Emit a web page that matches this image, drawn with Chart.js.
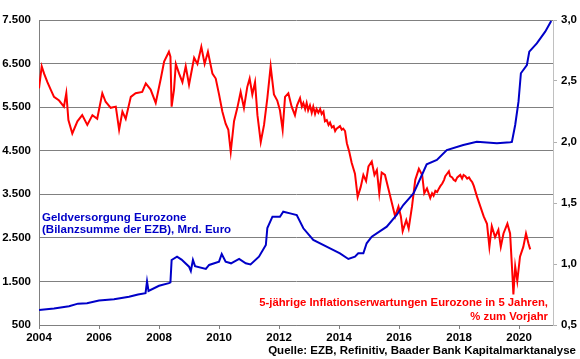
<!DOCTYPE html>
<html>
<head>
<meta charset="utf-8">
<script src="https://cdn.jsdelivr.net/npm/chart.js@4.4.1/dist/chart.umd.min.js"></script>
<style>
html,body{margin:0;padding:0;background:#fff;}
#wrap{width:580px;height:359px;}
</style>
</head>
<body>
<div id="wrap"><canvas id="c" width="580" height="359"></canvas></div>
<script>
// ---- Data ----
const blueYears = [2004.0,2004.5,2005.0,2005.3,2005.6,2006.0,2006.5,2007.0,2007.3,2007.55,2007.6,2007.65,2008.0,2008.33,2008.38,2008.42,2008.6,2008.75,2009.0,2009.06,2009.13,2009.2,2009.56,2009.67,2010.0,2010.09,2010.22,2010.4,2010.67,2010.89,2011.05,2011.33,2011.56,2011.61,2011.78,2012.03,2012.14,2012.37,2012.59,2012.81,2013.14,2013.7,2014.03,2014.31,2014.53,2014.64,2014.81,2014.92,2015.09,2015.59,2015.92,2016.14,2016.48,2016.81,2016.92,2017.26,2017.59,2018.14,2018.59,2019.26,2019.7,2019.76,2019.87,2019.98,2020.06,2020.26,2020.34,2020.59,2020.87,2021.07];
const blueValues = [844,880,930,990,1000,1060,1090,1150,1200,1230,1500,1280,1400,1460,1480,1992,2068,2000,1838,1740,1992,1850,1786,1878,1954,2130,1954,1916,2015,1916,1890,2068,2336,2726,2986,2986,3100,3062,3024,2719,2451,2260,2145,2015,2068,2145,2145,2375,2527,2757,3025,3254,3522,4018,4188,4287,4516,4631,4707,4670,4692,4700,5090,5625,6277,6467,6773,6965,7232,7477];

const redYears = [2004.0,2004.09,2004.17,2004.28,2004.39,2004.5,2004.67,2004.83,2004.91,2004.98,2005.11,2005.28,2005.44,2005.61,2005.78,2005.94,2006.11,2006.22,2006.39,2006.56,2006.67,2006.78,2006.89,2007.06,2007.22,2007.44,2007.56,2007.72,2007.89,2008.06,2008.17,2008.33,2008.38,2008.42,2008.5,2008.56,2008.67,2008.78,2008.89,2009.0,2009.17,2009.28,2009.41,2009.52,2009.63,2009.78,2009.89,2010.0,2010.11,2010.22,2010.31,2010.39,2010.5,2010.61,2010.72,2010.83,2010.94,2011.02,2011.11,2011.2,2011.28,2011.39,2011.5,2011.61,2011.72,2011.83,2011.94,2012.03,2012.12,2012.2,2012.31,2012.42,2012.53,2012.6,2012.7,2012.76,2012.81,2012.87,2012.92,2012.97,2013.03,2013.09,2013.14,2013.2,2013.25,2013.31,2013.37,2013.42,2013.48,2013.53,2013.59,2013.65,2013.7,2013.76,2013.82,2013.87,2013.92,2014.03,2014.09,2014.14,2014.2,2014.26,2014.34,2014.42,2014.53,2014.62,2014.72,2014.81,2014.9,2014.98,2015.09,2015.18,2015.26,2015.34,2015.42,2015.53,2015.64,2015.76,2015.87,2015.98,2016.06,2016.12,2016.24,2016.32,2016.43,2016.54,2016.66,2016.77,2016.84,2016.93,2017.04,2017.1,2017.15,2017.21,2017.27,2017.33,2017.38,2017.44,2017.5,2017.54,2017.6,2017.66,2017.7,2017.77,2017.82,2017.88,2017.94,2018.04,2018.1,2018.15,2018.21,2018.27,2018.33,2018.38,2018.44,2018.49,2018.6,2018.71,2018.82,2018.93,2019.01,2019.09,2019.2,2019.31,2019.39,2019.48,2019.61,2019.7,2019.78,2019.81,2019.87,2019.94,2020.03,2020.14,2020.23,2020.31,2020.37];
const redValues = [2.44,2.62,2.56,2.49,2.43,2.37,2.34,2.29,2.40,2.18,2.07,2.17,2.22,2.14,2.22,2.19,2.40,2.33,2.28,2.29,2.10,2.25,2.19,2.37,2.40,2.41,2.48,2.43,2.32,2.52,2.66,2.74,2.70,2.29,2.43,2.64,2.56,2.49,2.62,2.47,2.69,2.64,2.78,2.64,2.74,2.56,2.52,2.39,2.25,2.15,2.10,1.92,2.17,2.28,2.41,2.28,2.45,2.52,2.39,2.49,2.22,2.00,2.14,2.36,2.62,2.39,2.34,2.26,2.10,2.37,2.40,2.29,2.22,2.30,2.36,2.29,2.32,2.27,2.32,2.26,2.30,2.24,2.29,2.23,2.27,2.24,2.27,2.23,2.25,2.17,2.18,2.14,2.16,2.12,2.13,2.09,2.11,2.13,2.10,2.11,2.09,1.99,1.92,1.83,1.74,1.55,1.63,1.73,1.68,1.80,1.84,1.73,1.77,1.58,1.75,1.73,1.62,1.50,1.39,1.47,1.39,1.27,1.36,1.29,1.47,1.69,1.78,1.73,1.58,1.62,1.54,1.58,1.56,1.60,1.59,1.62,1.64,1.66,1.69,1.72,1.74,1.76,1.72,1.71,1.69,1.68,1.71,1.73,1.70,1.73,1.72,1.70,1.71,1.69,1.67,1.64,1.55,1.47,1.39,1.33,1.14,1.31,1.22,1.28,1.14,1.25,1.33,1.25,0.90,0.75,0.98,0.86,1.06,1.14,1.25,1.17,1.12];

const xTickYears = [2004,2006,2008,2010,2012,2014,2016,2018,2020];
const xMin = 2004, xMax = 2021.13;
const leftMin = 500, leftMax = 7500, leftStep = 1000;
const rightMin = 0.5, rightMax = 3.0, rightStep = 0.5;

const blueLabel = ["Geldversorgung Eurozone", "(Bilanzsumme der EZB), Mrd. Euro"];
const redLabel = ["5-jährige Inflationserwartungen Eurozone in 5 Jahren,", "% zum Vorjahr"];
const sourceText = "Quelle: EZB, Refinitiv, Baader Bank Kapitalmarktanalyse";

const BLUE = "#0000C8", RED = "#FF0000";
const FONT = "'Liberation Sans', Arial, sans-serif";

const toPts = (xs, ys) => xs.map((x, i) => ({x: x, y: ys[i]}));
const fmtThousands = v => String(Math.round(v)).replace(/\B(?=(\d{3})+(?!\d))/g, ".");

const textPlugin = {
  id: 'texts',
  afterDraw(chart) {
    const ctx = chart.ctx, a = chart.chartArea;
    ctx.save();
    ctx.textBaseline = "middle";
    ctx.font = "bold 11.5px " + FONT;
    ctx.fillStyle = BLUE;
    ctx.textAlign = "left";
    ctx.fillText(blueLabel[0], a.left + 3, 218);
    ctx.fillText(blueLabel[1], a.left + 3, 229.5);
    ctx.font = "bold 11.3px " + FONT;
    ctx.fillStyle = RED;
    ctx.textAlign = "right";
    ctx.fillText(redLabel[0], a.right - 5, 303);
    ctx.fillText(redLabel[1], a.right - 5, 317);
    ctx.font = "bold 11.5px " + FONT;
    ctx.fillStyle = "#000";
    ctx.fillText(sourceText, 576, 351);
    ctx.restore();
  }
};

new Chart(document.getElementById('c'), {
  type: 'line',
  data: {
    datasets: [
      {data: toPts(blueYears, blueValues), yAxisID: 'y', borderColor: BLUE, borderWidth: 2, pointRadius: 0, tension: 0},
      {data: toPts(redYears, redValues), yAxisID: 'y1', borderColor: RED, borderWidth: 2, pointRadius: 0, tension: 0}
    ]
  },
  options: {
    responsive: false,
    animation: false,
    events: [],
    layout: {padding: {top: 20, left: 0, right: 0, bottom: 0}},
    plugins: {legend: {display: false}, tooltip: {enabled: false}},
    scales: {
      x: {
        type: 'linear', min: xMin, max: xMax,
        afterBuildTicks: s => { s.ticks = xTickYears.map(v => ({value: v})); },
        afterFit: s => { s.height = 34; },
        ticks: {color: '#000', font: {family: FONT, size: 11.5, weight: 'bold'}, padding: 2, maxRotation: 0, autoSkip: false,
                callback: v => String(v)},
        grid: {drawOnChartArea: false, drawTicks: true, tickLength: 4, color: '#808080'},
        border: {color: '#808080', width: 1}
      },
      y: {
        position: 'left', min: leftMin, max: leftMax,
        afterFit: s => { s.width = 39; },
        ticks: {stepSize: leftStep, color: '#000', font: {family: FONT, size: 11.5, weight: 'bold'}, padding: 8,
                callback: v => fmtThousands(v)},
        grid: {color: '#808080', lineWidth: 1, drawTicks: false},
        border: {color: '#808080', width: 1}
      },
      y1: {
        position: 'right', min: rightMin, max: rightMax,
        afterFit: s => { s.width = 27; },
        ticks: {stepSize: rightStep, color: '#000', font: {family: FONT, size: 11.5, weight: 'bold'}, padding: 4,
                callback: v => v.toFixed(1).replace('.', ',')},
        grid: {drawOnChartArea: false, drawTicks: true, tickLength: 4, color: '#b0b0b0'},
        border: {color: '#c0c0c0', width: 1}
      }
    }
  },
  plugins: [textPlugin]
});
</script>
</body>
</html>
